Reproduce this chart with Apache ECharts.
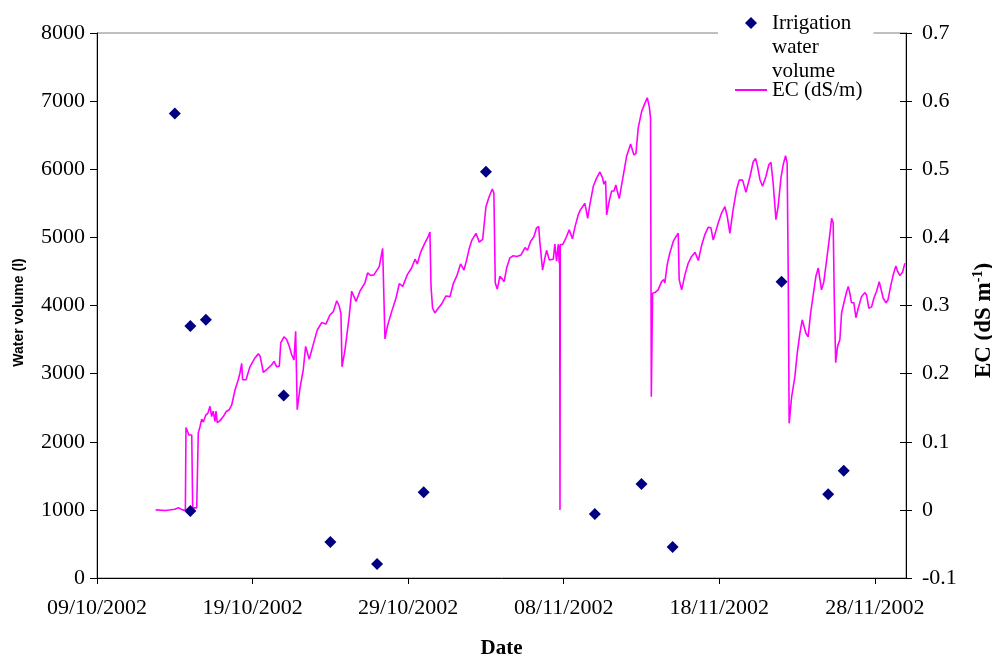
<!DOCTYPE html>
<html>
<head>
<meta charset="utf-8">
<script src="https://cdn.jsdelivr.net/npm/echarts@6/dist/echarts.min.js"></script>
<style>
  html, body { margin: 0; padding: 0; background: #ffffff; }
  #chart { width: 992px; height: 657px; }
</style>
</head>
<body>
<div id="chart"></div>
<script>
// Day 0 of the horizontal axis
const startDate = Date.UTC(2002, 9, 9);
const dayMs = 86400000;

// Irrigation events (date, volume in litres)
const irrigationDates = [
  '14/10/2002', '15/10/2002', '15/10/2002', '16/10/2002', '21/10/2002',
  '24/10/2002', '27/10/2002', '30/10/2002', '03/11/2002', '10/11/2002',
  '13/11/2002', '15/11/2002', '22/11/2002', '25/11/2002', '26/11/2002'
];
const irrigationVolume = [
  6820, 3700, 985, 3790, 2680,
  530, 205, 1258, 5965, 940,
  1380, 455, 4350, 1230, 1575
];

// EC record: time in days since 09/10/2002 and EC in dS/m
const ecDay = [
  3.77, 4.40, 5.00, 5.23, 5.50, 5.68, 5.72, 5.80, 5.91, 6.09, 6.15, 6.41, 6.51, 6.62, 6.73, 6.83, 6.99, 7.13, 7.26, 7.37,
  7.47, 7.58, 7.65, 7.73, 7.90, 8.12, 8.29, 8.50, 8.66, 8.87, 9.08, 9.19, 9.30, 9.36, 9.58, 9.83, 10.15, 10.37, 10.48, 10.69,
  10.91, 11.23, 11.38, 11.55, 11.72, 11.81, 12.02, 12.19, 12.36, 12.51, 12.66, 12.77, 12.87, 13.05, 13.26, 13.41, 13.64, 13.95, 14.16, 14.44,
  14.72, 14.97, 15.19, 15.41, 15.57, 15.68, 15.75, 15.94, 16.21, 16.37, 16.47, 16.65, 16.90, 17.22, 17.40, 17.59, 17.80, 18.14, 18.36, 18.44,
  18.51, 18.66, 18.94, 19.22, 19.43, 19.65, 19.94, 20.22, 20.44, 20.59, 20.80, 21.08, 21.29, 21.40, 21.47, 21.57, 21.72, 21.93, 22.15, 22.43,
  22.69, 22.90, 23.12, 23.37, 23.59, 23.76, 23.93, 24.10, 24.36, 24.57, 24.79, 25.00, 25.21, 25.41, 25.51, 25.60, 25.73, 25.90, 26.07, 26.17,
  26.33, 26.54, 26.75, 26.99, 27.25, 27.51, 27.67, 27.87, 28.08, 28.26, 28.39, 28.47, 28.64, 28.79, 28.90, 29.07, 29.33, 29.43, 29.54, 29.65,
  29.71, 29.74, 29.76, 29.78, 29.95, 30.14, 30.35, 30.56, 30.72, 30.93, 31.09, 31.36, 31.54, 31.68, 31.90, 32.11, 32.33, 32.50, 32.58, 32.69,
  32.76, 32.92, 33.08, 33.23, 33.35, 33.44, 33.57, 33.72, 33.82, 34.04, 34.30, 34.51, 34.64, 34.79, 35.01, 35.22, 35.37, 35.50, 35.58, 35.63,
  35.71, 35.86, 36.07, 36.29, 36.44, 36.50, 36.65, 36.82, 37.04, 37.21, 37.36, 37.42, 37.58, 37.79, 38.00, 38.22, 38.44, 38.65, 38.86, 39.07,
  39.29, 39.46, 39.61, 39.72, 39.93, 40.15, 40.36, 40.51, 40.68, 40.89, 41.11, 41.28, 41.50, 41.71, 41.97, 42.18, 42.33, 42.44, 42.61, 42.78,
  42.99, 43.19, 43.32, 43.46, 43.64, 43.78, 43.96, 44.11, 44.26, 44.36, 44.43, 44.49, 44.65, 44.86, 45.01, 45.18, 45.33, 45.44, 45.57, 45.71,
  45.87, 46.04, 46.21, 46.36, 46.47, 46.57, 46.72, 46.90, 47.06, 47.22, 47.32, 47.39, 47.48, 47.60, 47.75, 47.86, 48.01, 48.19, 48.29, 48.39,
  48.50, 48.65, 48.78, 48.93, 49.14, 49.36, 49.47, 49.61, 49.79, 49.94, 50.11, 50.28, 50.39, 50.53, 50.71, 50.84, 51.01, 51.18, 51.35, 51.46,
  51.61, 51.78, 51.93
];
const ecValue = [
  0.000, -0.001, 0.001, 0.003, 0.000, -0.001, 0.121, 0.121, 0.110, 0.110, 0.003, 0.003, 0.113, 0.122, 0.133, 0.129, 0.139, 0.142, 0.152, 0.137,
  0.145, 0.130, 0.145, 0.128, 0.131, 0.137, 0.144, 0.147, 0.154, 0.176, 0.191, 0.201, 0.215, 0.191, 0.191, 0.210, 0.223, 0.229, 0.226, 0.202,
  0.206, 0.213, 0.218, 0.210, 0.211, 0.245, 0.254, 0.250, 0.240, 0.228, 0.220, 0.262, 0.147, 0.179, 0.206, 0.240, 0.221, 0.247, 0.264, 0.275,
  0.273, 0.286, 0.291, 0.307, 0.299, 0.288, 0.210, 0.235, 0.284, 0.321, 0.320, 0.306, 0.321, 0.333, 0.348, 0.344, 0.345, 0.357, 0.384, 0.384,
  0.251, 0.269, 0.291, 0.311, 0.332, 0.328, 0.345, 0.355, 0.368, 0.361, 0.378, 0.392, 0.401, 0.408, 0.328, 0.296, 0.289, 0.296, 0.302, 0.314,
  0.313, 0.332, 0.343, 0.361, 0.352, 0.367, 0.384, 0.396, 0.406, 0.393, 0.397, 0.445, 0.460, 0.471, 0.465, 0.333, 0.324, 0.343, 0.338, 0.335,
  0.355, 0.370, 0.373, 0.372, 0.374, 0.385, 0.381, 0.394, 0.401, 0.414, 0.416, 0.392, 0.352, 0.370, 0.381, 0.367, 0.368, 0.390, 0.365, 0.390,
  0.362, 0.388, 0.000, 0.389, 0.390, 0.399, 0.411, 0.398, 0.415, 0.433, 0.441, 0.450, 0.428, 0.448, 0.475, 0.487, 0.496, 0.487, 0.478, 0.483,
  0.433, 0.453, 0.468, 0.468, 0.477, 0.468, 0.457, 0.477, 0.490, 0.519, 0.537, 0.521, 0.523, 0.561, 0.585, 0.597, 0.605, 0.592, 0.575, 0.166,
  0.318, 0.319, 0.323, 0.335, 0.338, 0.333, 0.360, 0.377, 0.394, 0.401, 0.406, 0.338, 0.323, 0.345, 0.362, 0.372, 0.378, 0.366, 0.388, 0.404,
  0.415, 0.414, 0.396, 0.395, 0.421, 0.436, 0.445, 0.431, 0.406, 0.441, 0.470, 0.484, 0.484, 0.466, 0.489, 0.511, 0.516, 0.506, 0.485, 0.475,
  0.489, 0.507, 0.510, 0.480, 0.426, 0.445, 0.487, 0.507, 0.520, 0.509, 0.348, 0.127, 0.166, 0.196, 0.230, 0.259, 0.279, 0.278, 0.259, 0.254,
  0.289, 0.316, 0.343, 0.355, 0.353, 0.323, 0.335, 0.367, 0.396, 0.428, 0.421, 0.313, 0.216, 0.240, 0.250, 0.289, 0.304, 0.321, 0.328, 0.318,
  0.304, 0.304, 0.282, 0.296, 0.313, 0.319, 0.315, 0.296, 0.298, 0.311, 0.321, 0.335, 0.333, 0.311, 0.304, 0.308, 0.328, 0.345, 0.358, 0.350,
  0.344, 0.349, 0.362
];

const irrigationName = 'Irrigation water volume';
const ecName = 'EC (dS/m)';

function dayOffset(s) {
  const p = s.split('/').map(Number);
  return (Date.UTC(p[2], p[1] - 1, p[0]) - startDate) / dayMs;
}
function formatDay(days) {
  const t = new Date(startDate + Math.round(days) * dayMs);
  const dd = String(t.getUTCDate()).padStart(2, '0');
  const mm = String(t.getUTCMonth() + 1).padStart(2, '0');
  return dd + '/' + mm + '/' + t.getUTCFullYear();
}

const serif = "'Liberation Serif', 'Times New Roman', serif";
const black = '#000000';
const labelSize = 22;

const chart = echarts.init(document.getElementById('chart'), null, { renderer: 'canvas' });

chart.setOption({
  animation: false,
  backgroundColor: '#ffffff',
  grid: {
    left: 97, right: 86, top: 33, bottom: 79,
    outerBoundsMode: 'none',
    containLabel: false,
    show: true, borderColor: '#808080', borderWidth: 1, backgroundColor: 'transparent'
  },
  legend: {
    orient: 'vertical',
    left: 718,
    top: -37,
    padding: [0, 11, 4, 16],
    backgroundColor: '#ffffff',
    itemWidth: 32,
    itemHeight: 12,
    itemGap: -5,
    symbolKeepAspect: true,
    textStyle: { fontFamily: serif, fontSize: 21, color: black, lineHeight: 24 },
    formatter: function (n) {
      // the long name is stacked over three lines, starting level with its marker
      return n === irrigationName ? '\n\n' + n.split(' ').join('\n') : n;
    },
    data: [
      { name: irrigationName, icon: 'path://M6,0L12,6L6,12L0,6Z' },
      { name: ecName, itemStyle: { opacity: 0 } }
    ]
  },
  xAxis: {
    type: 'value',
    min: 0, max: 52, interval: 10,
    name: 'Date',
    nameLocation: 'middle',
    nameGap: 60,
    nameTextStyle: { fontFamily: serif, fontSize: 21, fontWeight: 'bold', color: black },
    axisLine: { show: true, lineStyle: { color: black, width: 1 } },
    axisTick: { show: true, length: 6, lineStyle: { color: black } },
    axisLabel: {
      formatter: formatDay, fontFamily: serif, fontSize: labelSize, color: black,
      margin: 19, showMaxLabel: false
    },
    splitLine: { show: false }
  },
  yAxis: [
    {
      type: 'value', position: 'left',
      min: 0, max: 8000, interval: 1000,
      name: 'Water volume (l)',
      nameLocation: 'middle',
      nameGap: 71,
      nameTextStyle: {
        fontFamily: "'Liberation Sans', Arial, sans-serif", fontSize: 14, fontWeight: 'bold', color: black,
        padding: [0, 14, 0, 0]
      },
      axisLine: { show: true, lineStyle: { color: black, width: 1 } },
      axisTick: { show: true, length: 7, lineStyle: { color: black } },
      axisLabel: {
        fontFamily: serif, fontSize: labelSize, color: black, margin: 12,
        formatter: function (v) { return String(v); }
      },
      splitLine: { show: false }
    },
    {
      type: 'value', position: 'right',
      min: -0.1, max: 0.7, interval: 0.1,
      name: '{a|EC (dS m}{s|-1}{a|)}',
      nameLocation: 'middle',
      nameGap: 65,
      nameTextStyle: {
        padding: [0, 30, 0, 0],
        rich: {
          a: { fontFamily: serif, fontSize: 23, fontWeight: 'bold', color: black, lineHeight: 26 },
          s: { fontFamily: serif, fontSize: 14, fontWeight: 'bold', color: black, verticalAlign: 'top', lineHeight: 15 }
        }
      },
      axisLine: { show: true, lineStyle: { color: black, width: 1 } },
      axisTick: { show: true, length: 6, lineStyle: { color: black } },
      axisLabel: {
        fontFamily: serif, fontSize: labelSize, color: black, margin: 16,
        formatter: function (v) { return String(Math.round(v * 10) / 10); }
      },
      splitLine: { show: false }
    },
    {
      // inner half of the crossing ticks on the EC axis
      type: 'value', position: 'right',
      min: -0.1, max: 0.7, interval: 0.1,
      axisLine: { show: false },
      axisTick: { show: true, inside: true, length: 6, lineStyle: { color: black } },
      axisLabel: { show: false },
      splitLine: { show: false }
    }
  ],
  series: [
    {
      name: ecName,
      type: 'line',
      yAxisIndex: 1,
      symbol: 'none',
      lineStyle: { color: '#ff00ff', width: 1.6 },
      itemStyle: { color: '#ff00ff' },
      data: ecDay.map(function (d, i) { return [d, ecValue[i]]; }),
      z: 2
    },
    {
      name: irrigationName,
      type: 'scatter',
      yAxisIndex: 0,
      symbol: 'diamond',
      symbolSize: 12,
      itemStyle: { color: '#000080', opacity: 1 },
      data: irrigationDates.map(function (s, i) { return [dayOffset(s), irrigationVolume[i]]; }),
      z: 3
    }
  ]
});
</script>
</body>
</html>
